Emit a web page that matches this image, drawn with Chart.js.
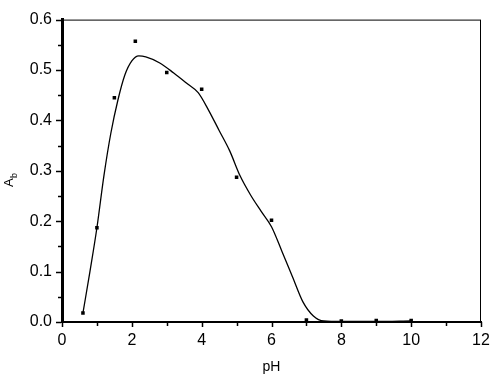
<!DOCTYPE html>
<html>
<head>
  <script src="https://cdn.jsdelivr.net/npm/chart.js"></script>
  <style>
    body { margin: 0; background: #fff; }
    #wrap { width: 500px; height: 376px; }
  </style>
</head>
<body>
  <div id="wrap"><canvas id="phChart"></canvas></div>
  <script>
    // measured points
    const phValues = [0.6, 1.0, 1.5, 2.1, 3.0, 4.0, 5.0, 6.0, 7.0, 8.0, 9.0, 10.0];
    const abValues = [0.018, 0.187, 0.445, 0.557, 0.495, 0.462, 0.287, 0.202, 0.004, 0.002, 0.003, 0.003];

    // fitted curve
    const curvePh = [0.6, 0.8, 1.0, 1.2, 1.4, 1.6, 1.8, 2.0, 2.2, 2.4, 2.8, 3.2, 3.6, 3.9, 4.2, 4.5, 4.8, 5.1, 5.4, 5.7, 6.0, 6.3, 6.6, 6.9, 7.2, 7.5, 8.0, 9.0, 10.0];
    const curveAb = [0.018, 0.10, 0.187, 0.29, 0.375, 0.44, 0.49, 0.518, 0.528, 0.526, 0.514, 0.494, 0.472, 0.455, 0.42, 0.38, 0.34, 0.29, 0.252, 0.22, 0.189, 0.14, 0.09, 0.04, 0.012, 0.002, 0.001, 0.001, 0.002];

    const xTicks = [0, 2, 4, 6, 8, 10, 12];
    const yTicks = [0.0, 0.1, 0.2, 0.3, 0.4, 0.5, 0.6];

    const font = { family: 'Liberation Sans, Arial, sans-serif', size: 16 };

    // tick marks (major + minor), frame and the A_b title
    const axisDecor = {
      id: 'axisDecor',
      afterDraw(chart) {
        const ctx = chart.ctx;
        const a = chart.chartArea;
        const xs = chart.scales.x, ys = chart.scales.y;
        ctx.save();
        ctx.strokeStyle = '#000';
        ctx.lineWidth = 1;
        ctx.strokeRect(a.left, a.top + 0.5, a.right - a.left - 0.5, a.bottom - a.top);

        ctx.lineWidth = 1.5;
        for (let v = 0; v <= 12; v++) {
          const px = Math.round(xs.getPixelForValue(v)) + 0.5;
          const len = v % 2 === 0 ? 5 : 4;
          ctx.beginPath();
          ctx.moveTo(px, a.bottom);
          ctx.lineTo(px, a.bottom + len);
          ctx.stroke();
        }
        for (let i = 0; i <= 12; i++) {
          const py = Math.round(ys.getPixelForValue(i * 0.05)) + 0.5;
          const len = i % 2 === 0 ? 5 : 3;
          ctx.beginPath();
          ctx.moveTo(a.left - 1, py);
          ctx.lineTo(a.left - 1 - len, py);
          ctx.stroke();
        }

        // y title: A with subscript b
        ctx.translate(9, 178);
        ctx.rotate(-Math.PI / 2);
        ctx.fillStyle = '#000';
        ctx.textBaseline = 'middle';
        ctx.textAlign = 'left';
        ctx.font = '13px Liberation Sans, Arial, sans-serif';
        ctx.fillText('A', -9, 0);
        ctx.font = '9px Liberation Sans, Arial, sans-serif';
        ctx.fillText('b', 0, 6);
        ctx.restore();
      }
    };

    new Chart(document.getElementById('phChart'), {
      type: 'scatter',
      data: {
        datasets: [
          {
            label: 'fit',
            data: curvePh.map((x, i) => ({ x: x, y: curveAb[i] })),
            showLine: true,
            borderColor: '#000',
            borderWidth: 1.3,
            pointRadius: 0,
            cubicInterpolationMode: 'monotone',
            fill: false
          },
          {
            label: 'Ab',
            data: phValues.map((x, i) => ({ x: x, y: abValues[i] })),
            pointStyle: 'rect',
            pointRadius: 2.5,
            backgroundColor: '#000',
            borderColor: '#000',
            borderWidth: 0
          }
        ]
      },
      options: {
        responsive: true,
        maintainAspectRatio: false,
        animation: false,
        layout: { padding: { top: 19, right: 19, left: 0, bottom: 0 } },
        plugins: { legend: { display: false }, tooltip: { enabled: false } },
        scales: {
          x: {
            type: 'linear',
            min: 0, max: 12,
            afterBuildTicks: s => { s.ticks = xTicks.map(v => ({ value: v })); },
            afterFit: s => { s.height = 54; },
            grid: { display: false, drawTicks: false },
            border: { display: true, color: '#000', width: 1.5 },
            ticks: { color: '#000', font: font, padding: 9, maxRotation: 0 },
            title: { display: true, text: 'pH', color: '#000', font: { family: font.family, size: 14 }, padding: { top: 6, bottom: 0 } }
          },
          y: {
            type: 'linear',
            min: 0, max: 0.6,
            afterBuildTicks: s => { s.ticks = yTicks.map(v => ({ value: v })); },
            afterFit: s => { s.width = 62; },
            grid: { display: false, drawTicks: false },
            border: { display: true, color: '#000', width: 3 },
            ticks: { color: '#000', font: font, padding: 10, callback: v => v.toFixed(1) }
          }
        }
      },
      plugins: [axisDecor]
    });
  </script>
</body>
</html>
